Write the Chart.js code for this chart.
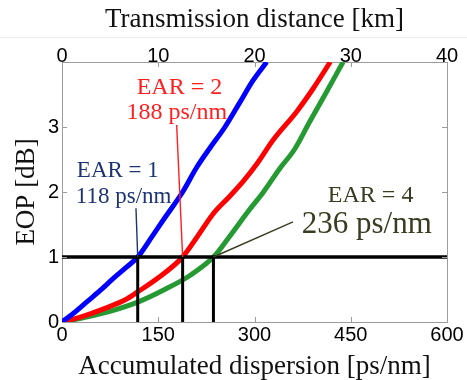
<!DOCTYPE html>
<html>
<head>
<meta charset="utf-8">
<title>EOP vs accumulated dispersion</title>
<script src="https://cdn.jsdelivr.net/npm/chart.js@4.4.1/dist/chart.umd.min.js"></script>
<style>
    html, body { margin: 0; padding: 0; background: #fff; }
    #wrap { width: 467px; height: 380px; }
</style>
</head>
<body>
<div id="wrap"><canvas id="eop-chart" width="467" height="380"></canvas></div>
<script>
// Accumulated dispersion [ps/nm] and EOP [dB] for each EAR
const ear1Dispersion = [0, 20, 40, 60, 80, 100, 118, 140, 160, 188, 210, 230, 254, 276, 298, 319];
const ear1Eop        = [0, 0.15, 0.32, 0.49, 0.67, 0.84, 1.0, 1.31, 1.6, 2.0, 2.38, 2.67, 3.0, 3.36, 3.72, 4.0];

const ear2Dispersion = [0, 30, 67, 100, 119, 150, 188, 210, 236, 260, 282, 305, 329, 366, 392, 418];
const ear2Eop        = [0, 0.08, 0.21, 0.35, 0.47, 0.68, 1.0, 1.3, 1.67, 1.92, 2.16, 2.45, 2.8, 3.24, 3.6, 4.0];

const ear4Dispersion = [0, 40, 80, 119, 160, 200, 236, 260, 290, 314, 340, 362, 386, 410, 438];
const ear4Eop        = [0, 0.08, 0.18, 0.31, 0.5, 0.72, 1.0, 1.3, 1.7, 2.0, 2.37, 2.65, 3.08, 3.5, 4.0];

// EOP threshold and the dispersion where each curve crosses it
const thresholdEop = 1;
const thresholdDispersion = [118, 188, 236];
const thresholdLabels = ['118 ps/nm', '188 ps/nm', '236 ps/nm'];
const earLabels = ['EAR = 1', 'EAR = 2', 'EAR = 4'];

// Axis ranges and ticks
const dispersionTicks = [0, 150, 300, 450, 600];
const distanceTicks = [0, 10, 20, 30, 40];
const eopTicks = [0, 1, 2, 3, 4];

const SERIF = "'Liberation Serif', 'Times New Roman', serif";
const SANS = "'Liberation Sans', Arial, sans-serif";
const BOX_COLOR = '#9c9c9c';

function toPoints(xs, ys) {
    return xs.map((x, i) => ({ x: x, y: ys[i] }));
}

// Callout text and leader lines, placed in data coordinates
const callouts = [
    { color: '#1c3474', sizes: [23, 23], at: [[87, 2.23], [96, 1.83]], from: [115.3, 1.75] },
    { color: '#ff1f1f', sizes: [24, 24], at: [[183, 3.51], [179, 3.12]], from: [178.7, 3.03] },
    { color: '#3a3c22', sizes: [24, 31], at: [[481, 1.85], [475, 1.37]], from: [360, 1.54] }
];

// MATLAB style inward tick marks on all four sides
const inwardTicks = {
    id: 'inwardTicks',
    afterDraw(chart) {
        const { ctx, chartArea: a, scales } = chart;
        const len = 5;
        ctx.save();
        ctx.strokeStyle = BOX_COLOR;
        ctx.lineWidth = 1;
        ctx.beginPath();
        dispersionTicks.slice(1, -1).forEach(v => {
            const px = Math.round(scales.x.getPixelForValue(v)) + 0.5;
            ctx.moveTo(px, a.bottom);
            ctx.lineTo(px, a.bottom - len);
        });
        distanceTicks.slice(1, -1).forEach(v => {
            const px = Math.round(scales.x2.getPixelForValue(v)) + 0.5;
            ctx.moveTo(px, a.top);
            ctx.lineTo(px, a.top + len);
        });
        eopTicks.slice(1, -1).forEach(v => {
            const py = Math.round(scales.y.getPixelForValue(v)) + 0.5;
            ctx.moveTo(a.left, py);
            ctx.lineTo(a.left + len, py);
            ctx.moveTo(a.right, py);
            ctx.lineTo(a.right - len, py);
        });
        ctx.stroke();
        ctx.restore();
    }
};

// EAR / dispersion labels with their leader lines
const calloutPlugin = {
    id: 'callouts',
    afterDatasetsDraw(chart) {
        const { ctx, scales } = chart;
        const px = v => scales.x.getPixelForValue(v);
        const py = v => scales.y.getPixelForValue(v);
        ctx.save();
        callouts.forEach((c, i) => {
            // leader line from the text down to the threshold crossing
            ctx.strokeStyle = c.color;
            ctx.lineWidth = 1.4;
            ctx.beginPath();
            ctx.moveTo(px(c.from[0]), py(c.from[1]));
            ctx.lineTo(px(thresholdDispersion[i]), py(thresholdEop));
            ctx.stroke();

            ctx.fillStyle = c.color;
            ctx.textAlign = 'center';
            ctx.textBaseline = 'alphabetic';
            [earLabels[i], thresholdLabels[i]].forEach((text, j) => {
                ctx.font = c.sizes[j] + 'px ' + SERIF;
                ctx.fillText(text, px(c.at[j][0]), py(c.at[j][1]));
            });
        });
        ctx.restore();
    }
};

// faint separator under the top title
const separator = {
    id: 'separator',
    beforeDraw(chart) {
        const ctx = chart.ctx;
        ctx.save();
        ctx.strokeStyle = '#eeeeee';
        ctx.lineWidth = 1;
        ctx.beginPath();
        ctx.moveTo(0, 37.5);
        ctx.lineTo(chart.width, 37.5);
        ctx.stroke();
        ctx.restore();
    }
};

function curve(label, xs, ys, color, order) {
    return {
        label: label,
        data: toPoints(xs, ys),
        borderColor: color,
        borderWidth: 5,
        pointRadius: 0,
        cubicInterpolationMode: 'monotone',
        xAxisID: 'x',
        yAxisID: 'y',
        order: order
    };
}

function blackLine(points, width) {
    return {
        data: points,
        borderColor: '#000',
        borderWidth: width,
        pointRadius: 0,
        xAxisID: 'x',
        yAxisID: 'y',
        order: 0
    };
}

const datasets = [
    curve(earLabels[0], ear1Dispersion, ear1Eop, '#0000ff', 1),
    curve(earLabels[1], ear2Dispersion, ear2Eop, '#ff0000', 2),
    curve(earLabels[2], ear4Dispersion, ear4Eop, '#259a32', 3),
    blackLine([{ x: dispersionTicks[0], y: thresholdEop }, { x: dispersionTicks[dispersionTicks.length - 1], y: thresholdEop }], 3.5)
];
thresholdDispersion.forEach(d => {
    datasets.push(blackLine([{ x: d, y: 0 }, { x: d, y: thresholdEop }], 3));
});

const ctx = document.getElementById('eop-chart').getContext('2d');
new Chart(ctx, {
    type: 'line',
    data: { datasets: datasets },
    options: {
        responsive: false,
        animation: false,
        devicePixelRatio: 1,
        layout: { padding: 0 },
        plugins: {
            legend: { display: false },
            tooltip: { enabled: false }
        },
        scales: {
            x: {
                type: 'linear',
                position: 'bottom',
                min: dispersionTicks[0],
                max: dispersionTicks[dispersionTicks.length - 1],
                afterBuildTicks: s => { s.ticks = dispersionTicks.map(v => ({ value: v })); },
                afterFit: s => { s.height = 58; },
                grid: { display: false, drawTicks: false },
                border: { display: true, color: BOX_COLOR, width: 1 },
                ticks: { color: '#000', padding: 3, maxRotation: 0, font: { family: SANS, size: 20, lineHeight: 1 } },
                title: {
                    display: true,
                    text: 'Accumulated dispersion [ps/nm]',
                    color: '#111',
                    font: { family: SERIF, size: 27, lineHeight: 0.7 },
                    padding: { top: 0, bottom: 3.5 }
                }
            },
            x2: {
                type: 'linear',
                position: 'top',
                min: distanceTicks[0],
                max: distanceTicks[distanceTicks.length - 1],
                afterBuildTicks: s => { s.ticks = distanceTicks.map(v => ({ value: v })); },
                afterFit: s => { s.height = 62; },
                grid: { display: false, drawTicks: false },
                border: { display: true, color: BOX_COLOR, width: 1 },
                ticks: { color: '#000', padding: -4.5, maxRotation: 0, font: { family: SANS, size: 20, lineHeight: 1 } },
                title: {
                    display: true,
                    text: 'Transmission distance [km]',
                    color: '#111',
                    font: { family: SERIF, size: 27, lineHeight: 1 },
                    padding: { top: 6.5, bottom: 0 }
                }
            },
            y: {
                type: 'linear',
                position: 'left',
                min: eopTicks[0],
                max: eopTicks[eopTicks.length - 1],
                afterBuildTicks: s => { s.ticks = eopTicks.map(v => ({ value: v })); },
                afterFit: s => { s.width = 62; },
                grid: { display: false, drawTicks: false },
                border: { display: true, color: BOX_COLOR, width: 1 },
                ticks: {
                    color: '#000',
                    padding: 3,
                    font: { family: SANS, size: 20 },
                    // the top value is not labelled
                    callback: v => (v === eopTicks[eopTicks.length - 1] ? '' : v)
                },
                title: {
                    display: true,
                    text: 'EOP [dB]',
                    color: '#111',
                    font: { family: SERIF, size: 27, lineHeight: 1 },
                    padding: { top: 13.5, bottom: 0 }
                }
            },
            y2: {
                type: 'linear',
                position: 'right',
                min: eopTicks[0],
                max: eopTicks[eopTicks.length - 1],
                afterFit: s => { s.width = 20; },
                grid: { display: false, drawTicks: false },
                border: { display: true, color: BOX_COLOR, width: 1 },
                ticks: { display: false }
            }
        }
    },
    plugins: [separator, inwardTicks, calloutPlugin]
});
</script>
</body>
</html>
